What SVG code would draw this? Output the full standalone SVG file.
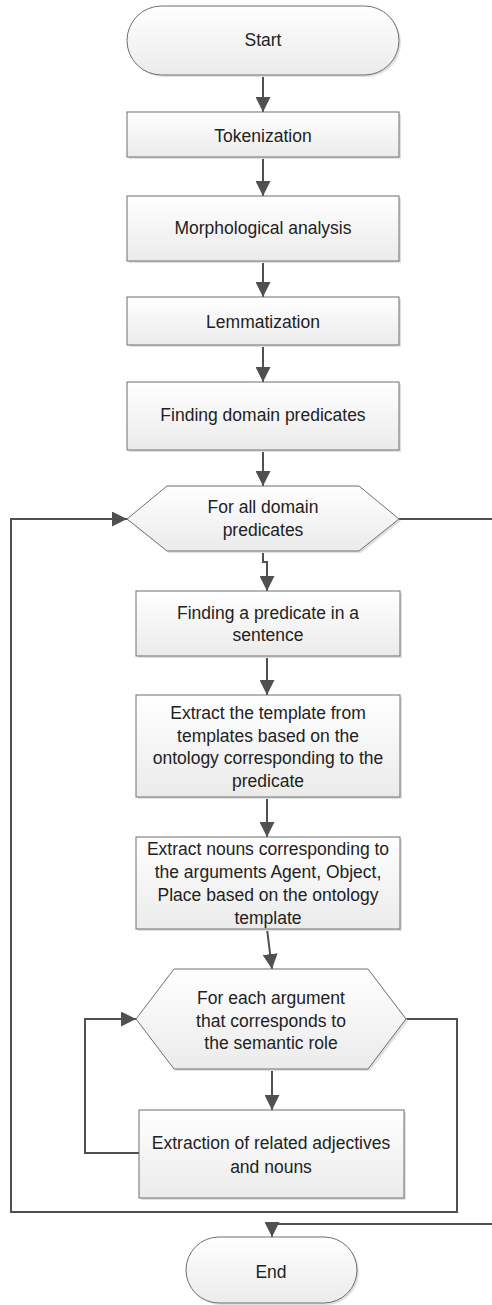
<svg xmlns="http://www.w3.org/2000/svg" width="492" height="1305" viewBox="0 0 492 1305">
<style>
.box{fill:url(#g);stroke:#6e6e6e;stroke-width:1}
.sh{fill:#e0e0e0}
.t{font-family:"Liberation Sans",Arial,sans-serif;font-size:17.5px;fill:#222222;text-anchor:middle}
.c{fill:none;stroke:#505050;stroke-width:2}
.a{marker-end:url(#ah)}
</style>
<defs>
<linearGradient id="g" x1="0" y1="0" x2="0" y2="1">
<stop offset="0" stop-color="#ffffff"/>
<stop offset="1" stop-color="#ebebeb"/>
</linearGradient>
<marker id="ah" markerUnits="userSpaceOnUse" markerWidth="16" markerHeight="15" refX="15" refY="7.5" orient="auto">
<path d="M0,0 L15,7.5 L0,15 z" fill="#505050"/>
</marker>
</defs>
<g id="connectors">
<path class="c a" d="M263,75 V112"/>
<path class="c a" d="M263,157 V196"/>
<path class="c a" d="M263,261 V297"/>
<path class="c a" d="M263,345 V382"/>
<path class="c a" d="M263,450 V486"/>
<path class="c a" d="M263,551 V562 H267 V591"/>
<path class="c a" d="M267,656 V695"/>
<path class="c a" d="M267,797 V837"/>
<path class="c a" d="M267,929 L272,969"/>
<path class="c a" d="M272,1069 V1110"/>
<path class="c a" d="M139,1153 H85 V1019 H136"/>
<path class="c a" d="M406,1019 H457 V1212 H11 V519 H127"/>
<path class="c a" d="M399,519 H500 V1224 H272 V1237"/>
</g>
<g id="start">
<rect class="sh" x="129" y="8" width="272" height="69" rx="34.5"/>
<rect class="box" x="127" y="6" width="272" height="69" rx="34.5"/>
<text class="t" x="263" y="46">Start</text>
</g>
<g id="tokenization">
<rect class="sh" x="129" y="114" width="272" height="45"/>
<rect class="box" x="127" y="112" width="272" height="45"/>
<text class="t" x="263" y="142">Tokenization</text>
</g>
<g id="morphological">
<rect class="sh" x="129" y="198" width="272" height="65"/>
<rect class="box" x="127" y="196" width="272" height="65"/>
<text class="t" x="263" y="234">Morphological analysis</text>
</g>
<g id="lemmatization">
<rect class="sh" x="129" y="299" width="272" height="48"/>
<rect class="box" x="127" y="297" width="272" height="48"/>
<text class="t" x="263" y="328">Lemmatization</text>
</g>
<g id="finding-domain">
<rect class="sh" x="129" y="384" width="272" height="68"/>
<rect class="box" x="127" y="382" width="272" height="68"/>
<text class="t" x="263" y="421">Finding domain predicates</text>
</g>
<g id="loop-domain">
<polygon class="sh" points="129,521 169,488 361,488 401,521 361,553 169,553"/>
<polygon class="box" points="127,519 167,486 359,486 399,519 359,551 167,551"/>
<text class="t" x="263" y="513">For all domain</text>
<text class="t" x="263" y="536">predicates</text>
</g>
<g id="finding-predicate">
<rect class="sh" x="138" y="593" width="264" height="65"/>
<rect class="box" x="136" y="591" width="264" height="65"/>
<text class="t" x="268" y="619">Finding a predicate in a</text>
<text class="t" x="268" y="641">sentence</text>
</g>
<g id="extract-template">
<rect class="sh" x="138" y="697" width="264" height="102"/>
<rect class="box" x="136" y="695" width="264" height="102"/>
<text class="t" x="268" y="719">Extract the template from</text>
<text class="t" x="268" y="742">templates based on the</text>
<text class="t" x="268" y="764">ontology corresponding to the</text>
<text class="t" x="268" y="787">predicate</text>
</g>
<g id="extract-nouns">
<rect class="sh" x="138" y="839" width="264" height="92"/>
<rect class="box" x="136" y="837" width="264" height="92"/>
<text class="t" x="268" y="855">Extract nouns corresponding to</text>
<text class="t" x="268" y="878">the arguments Agent, Object,</text>
<text class="t" x="268" y="901">Place based on the ontology</text>
<text class="t" x="268" y="924">template</text>
</g>
<g id="loop-argument">
<polygon class="sh" points="138,1021 176,971 370,971 408,1021 370,1071 176,1071"/>
<polygon class="box" points="136,1019 174,969 368,969 406,1019 368,1069 174,1069"/>
<text class="t" x="271" y="1004">For each argument</text>
<text class="t" x="271" y="1027">that corresponds to</text>
<text class="t" x="271" y="1049">the semantic role</text>
</g>
<g id="extraction">
<rect class="sh" x="141" y="1112" width="265" height="88"/>
<rect class="box" x="139" y="1110" width="265" height="88"/>
<text class="t" x="271" y="1149">Extraction of related adjectives</text>
<text class="t" x="271" y="1173">and nouns</text>
</g>
<g id="end">
<rect class="sh" x="188" y="1239" width="171" height="66" rx="33"/>
<rect class="box" x="186" y="1237" width="171" height="66" rx="33"/>
<text class="t" x="271" y="1278">End</text>
</g>
</svg>
